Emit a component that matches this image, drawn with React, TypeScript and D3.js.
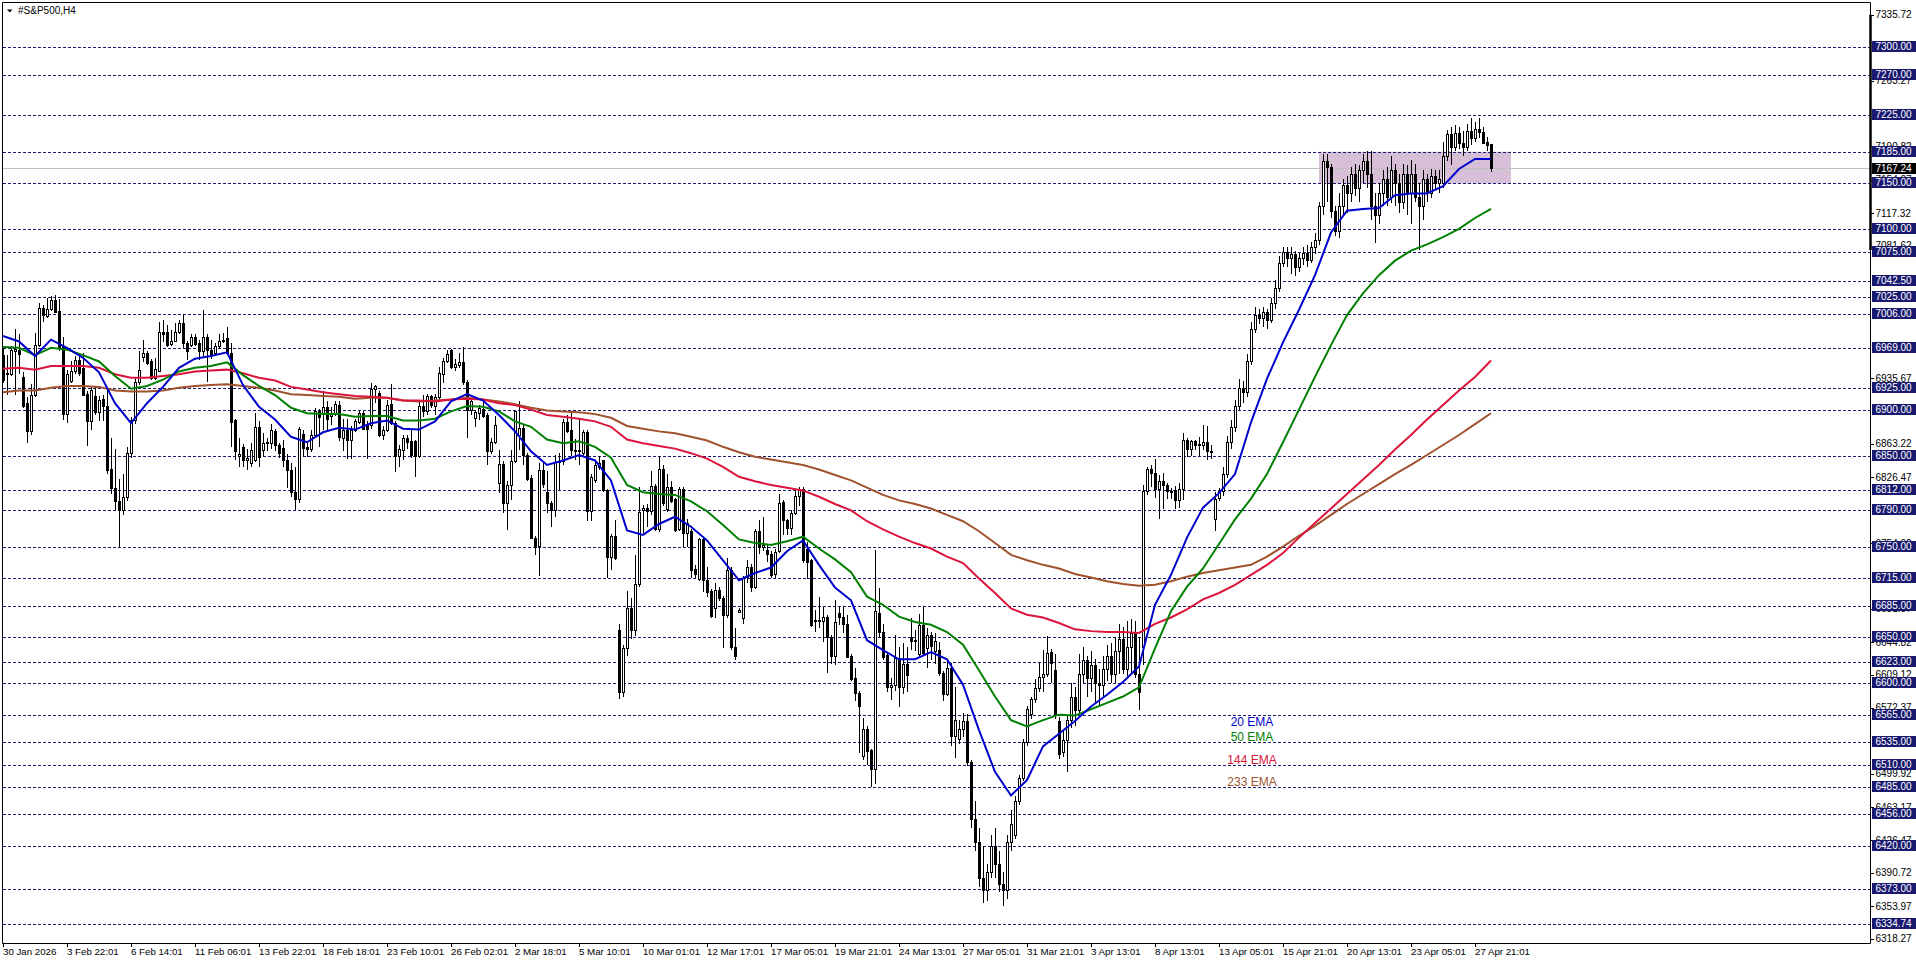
import React from 'react';
import * as d3 from 'd3';

type Bar = [number, number, number, number]; // open, high, low, close

// 30 Jan to end of Feb
const febBars: Bar[] = [
  [6961,6970,6930,6934],[6940,6961,6917,6941],[6940,6971,6938,6967],[6966,6990,6917,6968],[6967,6984,6940,6962],[6937,6942,6903,6905],
  [6908,6915,6864,6877],[6877,6929,6873,6917],[6917,6985,6915,6972],[6972,7018,6970,7013],[7013,7016,6997,7005],[7004,7024,7002,7012],
  [7012,7026,7010,7022],[7022,7027,7007,7009],[7010,7023,6965,6969],[6971,6981,6890,6896],[6896,6945,6886,6940],[6932,6954,6930,6943],
  [6943,6960,6940,6956],[6956,6960,6938,6941],[6947,6963,6916,6917],[6918,6922,6861,6888],[6888,6927,6879,6923],[6916,6926,6895,6898],
  [6898,6916,6888,6912],[6913,6917,6888,6905],[6905,6925,6830,6835],[6836,6870,6808,6815],[6815,6858,6790,6800],[6800,6825,6750,6790],
  [6790,6830,6785,6805],[6805,6860,6800,6853],[6853,6893,6848,6890],[6890,6936,6885,6931],[6931,6965,6928,6945],[6959,6978,6953,6963],
  [6963,6965,6950,6952],[6955,6957,6934,6936],[6936,6958,6934,6946],[6944,6997,6942,6986],[6986,7000,6975,6984],[6986,6994,6970,6972],
  [6973,6989,6971,6977],[6977,6996,6975,6986],[6986,7000,6984,6996],[6996,7006,6969,6974],[6974,6976,6956,6965],[6972,6984,6970,6981],
  [6981,6984,6971,6973],[6974,6978,6956,6965],[6965,7011,6960,6981],[6981,6984,6931,6967],[6967,6978,6957,6961],[6963,6974,6960,6971],
  [6971,6984,6968,6976],[6976,6985,6974,6978],[6980,6992,6961,6963],[6963,6974,6860,6887],[6889,6891,6846,6855],[6850,6870,6838,6852],
  [6860,6863,6838,6845],[6846,6858,6835,6848],[6842,6864,6838,6856],[6846,6897,6843,6882],[6882,6888,6838,6849],[6857,6875,6850,6864],
  [6864,6870,6855,6865],[6864,6885,6858,6878],[6877,6880,6855,6862],[6862,6864,6848,6853],[6859,6868,6838,6846],[6846,6852,6815,6835],
  [6835,6842,6805,6810],[6810,6838,6790,6802],[6802,6882,6798,6880],[6874,6878,6849,6859],[6860,6865,6849,6858],[6858,6878,6854,6873],
  [6873,6903,6870,6899],[6899,6902,6860,6893],[6897,6922,6878,6904],[6904,6910,6878,6891],[6894,6904,6884,6897],[6896,6910,6894,6907],
  [6906,6911,6866,6871],[6870,6891,6855,6878],[6878,6891,6847,6867],[6867,6883,6847,6878],[6878,6891,6876,6888],[6887,6899,6885,6897],
  [6897,6899,6878,6880],[6884,6888,6847,6880],[6884,6930,6880,6924],[6924,6928,6908,6927],[6919,6921,6871,6873],[6873,6883,6868,6879],
  [6878,6912,6876,6906],[6907,6929,6884,6886],[6886,6888,6832,6850],[6850,6862,6838,6858],[6857,6873,6846,6870],[6870,6873,6858,6865],
  [6866,6880,6848,6851],[6866,6868,6827,6850],[6850,6910,6848,6905],[6905,6917,6893,6899],[6899,6918,6895,6916],[6916,6917,6903,6906],
  [6905,6918,6895,6915],[6915,6948,6912,6941],[6940,6958,6930,6955],[6954,6967,6952,6962],[6967,6968,6946,6948],[6948,6957,6943,6951],
  [6950,6963,6947,6953],[6953,6970,6928,6931],[6931,6934,6870,6900],[6900,6913,6895,6910],
];

// March
const marBars: Bar[] = [
  [6892,6900,6882,6898],[6897,6906,6890,6903],[6902,6911,6892,6894],[6895,6897,6840,6855],[6855,6870,6852,6865],[6865,6894,6863,6884],
  [6820,6856,6809,6841],[6841,6844,6787,6798],[6798,6822,6768,6818],[6818,6857,6801,6844],[6844,6899,6842,6899],[6873,6910,6856,6881],
  [6881,6884,6840,6851],[6851,6853,6822,6825],[6826,6829,6758,6760],[6760,6762,6741,6750],[6751,6842,6718,6835],[6835,6842,6815,6819],
  [6810,6833,6787,6798],[6798,6800,6772,6790],[6790,6851,6783,6843],[6843,6853,6812,6844],[6844,6891,6840,6887],[6887,6895,6875,6877],
  [6879,6898,6850,6856],[6856,6869,6845,6855],[6855,6891,6840,6857],[6853,6879,6850,6876],[6876,6879,6778,6789],[6789,6830,6778,6827],
  [6823,6844,6820,6840],[6838,6850,6835,6842],[6845,6846,6810,6812],[6812,6813,6715,6739],[6739,6764,6724,6762],[6762,6779,6735,6738],
  [6658,6665,6582,6590],[6590,6642,6585,6638],[6638,6701,6630,6682],[6682,6693,6648,6658],[6658,6741,6652,6709],[6709,6816,6706,6788],
  [6790,6796,6765,6793],[6793,6797,6772,6789],[6789,6833,6785,6817],[6817,6819,6767,6769],[6769,6850,6766,6836],[6836,6840,6795,6798],
  [6791,6830,6788,6816],[6816,6822,6798,6800],[6802,6804,6766,6768],[6769,6816,6767,6814],[6813,6816,6750,6765],[6765,6780,6750,6776],
  [6767,6770,6715,6724],[6725,6730,6715,6720],[6714,6760,6712,6758],[6758,6760,6700,6713],[6713,6728,6695,6700],[6701,6703,6671,6674],
  [6682,6710,6671,6702],[6702,6706,6690,6693],[6694,6696,6638,6675],[6675,6738,6672,6724],[6724,6728,6636,6640],[6640,6660,6625,6630],
  [6678,6682,6677,6680],[6672,6718,6665,6715],[6717,6735,6710,6728],[6728,6731,6700,6706],[6706,6770,6703,6767],[6767,6779,6742,6750],
  [6750,6783,6745,6752],[6746,6752,6733,6742],[6742,6745,6715,6719],[6720,6748,6715,6744],[6745,6808,6743,6798],[6799,6801,6763,6779],
  [6779,6780,6763,6771],[6771,6790,6763,6787],[6787,6812,6785,6806],[6806,6816,6795,6812],[6814,6816,6732,6735],[6748,6755,6714,6733],
  [6735,6736,6661,6664],[6668,6680,6656,6669],[6669,6695,6660,6668],[6668,6684,6645,6673],[6673,6675,6611,6651],[6651,6653,6621,6630],
  [6630,6691,6620,6667],[6677,6684,6664,6673],[6673,6684,6655,6665],[6665,6675,6627,6629],[6630,6632,6602,6604],[6605,6616,6580,6589],
  [6589,6591,6523,6574],[6520,6561,6515,6549],[6549,6552,6510,6525],[6526,6527,6485,6505],[6505,6746,6489,6679],[6677,6704,6651,6656],
  [6656,6665,6625,6629],[6631,6634,6590,6595],[6595,6605,6581,6598],[6598,6653,6591,6627],[6627,6640,6573,6595],[6595,6644,6588,6621],
  [6621,6639,6590,6609],[6651,6671,6636,6646],[6646,6658,6635,6647],[6632,6676,6630,6664],[6664,6684,6630,6633],[6638,6660,6616,6653],
  [6653,6656,6625,6641],[6635,6655,6621,6646],[6636,6645,6608,6611],[6611,6613,6580,6588],[6588,6625,6586,6616],[6616,6622,6530,6541],
  [6541,6595,6517,6559],[6538,6559,6533,6549],[6549,6567,6540,6558],[6558,6566,6508,6513],[6513,6515,6440,6450],[6450,6470,6415,6425],
  [6425,6440,6375,6385],[6385,6420,6358,6372],[6372,6400,6360,6392],[6392,6432,6385,6420],[6420,6440,6385,6400],[6400,6415,6370,6378],
  [6378,6392,6354,6372],[6372,6432,6362,6425],[6425,6460,6415,6445],[6432,6475,6428,6470],[6470,6498,6465,6495],[6495,6538,6492,6535],
  [6535,6575,6530,6571],[6566,6585,6560,6582],[6582,6604,6578,6594],
];

// April
const aprBars: Bar[] = [
  [6594,6622,6590,6606],[6606,6636,6590,6610],[6610,6652,6606,6633],[6634,6637,6600,6622],[6614,6632,6560,6565],[6558,6562,6516,6522],
  [6524,6548,6518,6537],[6537,6565,6502,6559],[6559,6600,6550,6585],[6585,6595,6552,6570],[6570,6632,6565,6610],[6610,6640,6600,6625],
  [6625,6630,6585,6605],[6605,6635,6590,6620],[6620,6626,6578,6600],[6600,6615,6575,6598],[6598,6630,6585,6615],[6615,6642,6602,6630],
  [6630,6644,6600,6610],[6610,6650,6600,6635],[6635,6665,6610,6648],[6648,6662,6610,6615],[6615,6668,6608,6640],[6640,6670,6610,6655],
  [6655,6668,6605,6610],[6610,6650,6570,6590],[6640,6818,6620,6811],[6811,6838,6807,6836],[6836,6840,6816,6831],[6831,6847,6804,6813],
  [6813,6829,6780,6822],[6822,6831,6792,6818],[6818,6820,6803,6811],[6811,6815,6803,6810],[6812,6817,6792,6801],[6801,6820,6793,6814],
  [6814,6875,6801,6867],[6867,6870,6849,6858],[6858,6868,6850,6866],[6866,6868,6856,6862],[6862,6871,6850,6863],[6862,6884,6857,6865],
  [6865,6883,6845,6855],[6855,6862,6847,6855],[6781,6810,6767,6803],[6804,6815,6800,6811],[6811,6838,6806,6830],[6830,6872,6826,6865],
  [6865,6890,6858,6882],[6882,6912,6876,6905],[6905,6935,6900,6925],[6925,6932,6908,6920],[6920,6962,6915,6955],[6955,6998,6950,6990],
  [6990,7014,6985,7005],[7005,7012,6995,7002],[7002,7014,6992,7008],[7008,7012,6990,7000],[7000,7024,6996,7018],[7018,7044,7012,7035],
  [7035,7070,7030,7062],[7062,7080,7058,7075],[7075,7080,7058,7068],[7068,7080,7050,7072],[7072,7076,7048,7058],[7058,7074,7052,7068],
  [7068,7080,7060,7074],[7074,7082,7058,7066],[7066,7086,7062,7080],[7080,7096,7072,7088],[7088,7130,7082,7125],[7125,7182,7115,7175],
  [7175,7182,7130,7168],[7168,7172,7112,7120],[7120,7125,7092,7098],[7098,7140,7090,7125],[7125,7155,7115,7148],[7148,7158,7118,7140],
  [7140,7168,7130,7160],[7160,7172,7136,7145],[7145,7170,7130,7165],[7165,7182,7150,7175],[7175,7186,7145,7160],[7160,7186,7110,7125],
  [7125,7140,7085,7115],[7115,7150,7105,7140],[7140,7165,7125,7155],[7155,7168,7125,7135],[7135,7180,7128,7165],[7165,7172,7125,7150],
  [7150,7160,7118,7130],[7130,7172,7122,7160],[7160,7170,7115,7140],[7140,7176,7105,7160],[7160,7172,7130,7135],[7135,7150,7077,7125],
  [7125,7165,7110,7155],[7155,7160,7130,7140],[7140,7166,7134,7158],[7158,7165,7144,7150],[7150,7165,7140,7155],[7150,7196,7145,7180],
  [7180,7209,7175,7205],[7205,7212,7170,7190],[7190,7214,7186,7206],[7206,7212,7188,7195],[7195,7208,7180,7190],[7190,7216,7186,7208],
  [7208,7222,7192,7200],[7200,7218,7196,7210],[7210,7222,7200,7207],[7207,7212,7193,7195],[7196,7201,7186,7192],[7193,7193,7163,7167],
];

const bars: Bar[] = [...febBars, ...marBars, ...aprBars];

// EMA readings, one every 4th bar
const emaStep = 4;
const ema20 = [
  6982,6976,6960,6978,6969,6958,6942,6908,6886,6908,6926,6947,6957,6960,6964,6928,6904,6890,6871,
  6865,6876,6881,6879,6886,6889,6880,6879,6888,6910,6918,6911,
  6895,6877,6855,6840,6845,6851,6845,6823,6768,6763,6775,6783,6772,6757,6735,6713,6721,6727,6745,
  6757,6730,6705,6691,6647,6636,6626,6626,6634,6626,6598,6548,6502,6476,6493,6530,6544,
  6558,6574,6587,6601,6618,6686,6719,6760,6793,6809,6830,6887,6935,6975,7011,7049,7096,7120,7122,7123,7137,7139,7139,7147,7166,7177,7177,
];
const ema50 = [
  6970,6969,6961,6969,6967,6961,6954,6938,6924,6927,6934,6943,6947,6949,6953,6939,6927,6917,6903,
  6897,6896,6896,6893,6894,6894,6889,6889,6891,6899,6905,6904,
  6899,6888,6882,6868,6864,6866,6860,6848,6818,6810,6808,6807,6800,6789,6774,6758,6754,6752,6756,
  6761,6748,6736,6722,6695,6686,6673,6667,6664,6656,6642,6614,6585,6559,6552,6559,6565,
  6564,6571,6578,6585,6595,6638,6679,6706,6726,6753,6780,6803,6830,6865,6901,6937,6972,7005,7029,7049,7065,7076,7083,7091,7100,7112,7122,
];
const ema144 = [
  6946,6947,6945,6949,6949,6949,6947,6940,6936,6936,6938,6940,6943,6944,6945,6941,6936,6933,6926,
  6923,6920,6918,6916,6915,6914,6911,6911,6910,6912,6913,6912,
  6908,6906,6901,6895,6893,6891,6888,6882,6868,6864,6861,6858,6853,6847,6838,6827,6822,6818,6815,
  6812,6805,6797,6790,6778,6769,6761,6754,6748,6739,6732,6715,6699,6682,6675,6672,6666,
  6659,6657,6656,6656,6655,6665,6672,6681,6692,6699,6708,6719,6730,6743,6760,6776,6792,6808,6824,6840,6857,6873,6890,6906,6922,6937,6955,
];
const ema233 = [
  6920,6922,6922,6925,6927,6927,6926,6922,6921,6921,6922,6925,6927,6928,6929,6927,6925,6922,6918,
  6917,6916,6915,6913,6914,6914,6911,6910,6911,6912,6914,6912,
  6910,6907,6903,6900,6899,6898,6896,6892,6883,6880,6877,6875,6871,6867,6860,6854,6849,6846,6843,
  6840,6835,6829,6823,6815,6807,6801,6797,6792,6785,6778,6767,6754,6741,6735,6730,6726,
  6720,6716,6712,6709,6707,6708,6712,6717,6721,6724,6727,6730,6739,6750,6762,6773,6785,6797,6808,6819,6830,6840,6851,6862,6873,6885,6897,
];

const levels = [
  7300,7270,7225,7185,7150,7100,7075,7042.5,7025,7006,6969,6925,6900,6850,6812,6790,6750,6715,6685,6650,
  6623,6600,6565,6535,6510,6485,6456,6420,6373,6334.74,
];
const priceTicks = [
  7335.72,7263.27,7190.82,7154.07,7117.32,7081.62,6935.67,6863.22,6826.47,6754.02,6681.57,6644.82,6609.12,
  6572.37,6499.92,6463.17,6426.47,6390.72,6353.97,6318.27,
];
const dateLabels = [
  '30 Jan 2026','3 Feb 22:01','6 Feb 14:01','11 Feb 06:01','13 Feb 22:01','18 Feb 18:01','23 Feb 10:01','26 Feb 02:01',
  '2 Mar 18:01','5 Mar 10:01','10 Mar 01:01','12 Mar 17:01','17 Mar 05:01','19 Mar 21:01','24 Mar 13:01','27 Mar 05:01',
  '31 Mar 21:01','3 Apr 13:01','8 Apr 13:01','13 Apr 05:01','15 Apr 21:01','20 Apr 13:01','23 Apr 05:01','27 Apr 21:01',
];
const lastPrice = 7167.24;
const zonePrices = [7185, 7150];
const zoneBars = [329, 377];
const emaLegend = [
  { label: '20 EMA', price: 6552, color: '#0000cd' },
  { label: '50 EMA', price: 6536, color: '#008000' },
  { label: '144 EMA', price: 6511, color: '#dc143c' },
  { label: '233 EMA', price: 6486, color: '#a0522d' },
];

const W = 1916;
const H = 963;
const axisX = 1870;
const bottom = 943;
const navy = '#191970';
const font = '"Liberation Sans", Arial, sans-serif';

const x = d3.scaleLinear().domain([0, bars.length - 1]).range([3, 1491]);
const y = d3.scaleLinear().domain([7300, 6485]).range([47.3, 787.3]);

const emaLine = d3.line<number>()
  .x((_, i) => x(i * emaStep))
  .y(d => y(d));

export default function App() {
  return (
    <svg width={W} height={H} style={{ position: 'absolute', left: 0, top: 0, background: '#fff' }} fontFamily={font}>
      <rect
        x={x(zoneBars[0])}
        y={y(zonePrices[0])}
        width={x(zoneBars[1]) - x(zoneBars[0])}
        height={y(zonePrices[1]) - y(zonePrices[0])}
        fill="#d8bfd8"
      />
      {levels.map(l => (
        <line key={l} x1={3} x2={axisX} y1={Math.round(y(l)) + 0.5} y2={Math.round(y(l)) + 0.5} stroke={navy} strokeDasharray="3 2" />
      ))}
      <line x1={3} x2={axisX} y1={Math.round(y(lastPrice)) + 0.5} y2={Math.round(y(lastPrice)) + 0.5} stroke="#c0c0c0" />

      <g shapeRendering="crispEdges">
        {bars.map(([o, h, l, c], i) => {
          const cx = Math.round(x(i));
          const top = Math.round(y(Math.max(o, c)));
          const bot = Math.round(y(Math.min(o, c)));
          return (
            <g key={i}>
              <line x1={cx + 0.5} x2={cx + 0.5} y1={y(h)} y2={y(l)} stroke="#000" />
              <rect x={cx - 0.5} y={top + 0.5} width={2} height={Math.max(bot - top, 0.5)} fill={c >= o ? '#fff' : '#000'} stroke="#000" />
            </g>
          );
        })}
      </g>

      <path d={emaLine(ema233) || ''} fill="none" stroke="#a0522d" strokeWidth={2} />
      <path d={emaLine(ema144) || ''} fill="none" stroke="#dc143c" strokeWidth={2} />
      <path d={emaLine(ema50) || ''} fill="none" stroke="#008000" strokeWidth={2} />
      <path d={emaLine(ema20) || ''} fill="none" stroke="#0000cd" strokeWidth={2} />

      {emaLegend.map(d => (
        <text key={d.label} x={1252} y={y(d.price)} fontSize={12} fill={d.color} textAnchor="middle">{d.label}</text>
      ))}

      {/* frame */}
      <path d={`M2.5 ${bottom + 0.5}V2.5H${axisX + 0.5}V${bottom + 0.5}H2.5`} fill="none" stroke="#000" />
      <line x1={axisX + 0.5} x2={axisX + 0.5} y1={y(priceTicks[0])} y2={250} stroke="#000" strokeWidth={2.5} />

      <path d="M7 9.5H12.5L9.75 12.5Z" fill="#000" />
      <text x={18} y={13.5} fontSize={10} fill="#000">#S&amp;P500,H4</text>

      {priceTicks.map(t => (
        <g key={t}>
          <line x1={axisX} x2={axisX + 4} y1={Math.round(y(t)) + 0.5} y2={Math.round(y(t)) + 0.5} stroke="#000" />
          <text x={1875.5} y={y(t) + 3.5} fontSize={10} fill="#000">{t.toFixed(2)}</text>
        </g>
      ))}
      {levels.map(l => (
        <g key={l}>
          <rect x={1872} y={Math.round(y(l)) - 6} width={44} height={11} fill={navy} />
          <text x={1875.5} y={Math.round(y(l)) + 3} fontSize={10} fill="#fff">{l.toFixed(2)}</text>
        </g>
      ))}
      <rect x={1872} y={Math.round(y(lastPrice)) - 5} width={44} height={11} fill="#000" />
      <text x={1875.5} y={Math.round(y(lastPrice)) + 4} fontSize={10} fill="#fff">{lastPrice.toFixed(2)}</text>

      {dateLabels.map((d, i) => (
        <g key={d}>
          <line x1={x(i * 16) + 0.5} x2={x(i * 16) + 0.5} y1={bottom} y2={bottom + 4} stroke="#000" />
          <text x={x(i * 16)} y={955} fontSize={9.7} fill="#000">{d}</text>
        </g>
      ))}
    </svg>
  );
}
